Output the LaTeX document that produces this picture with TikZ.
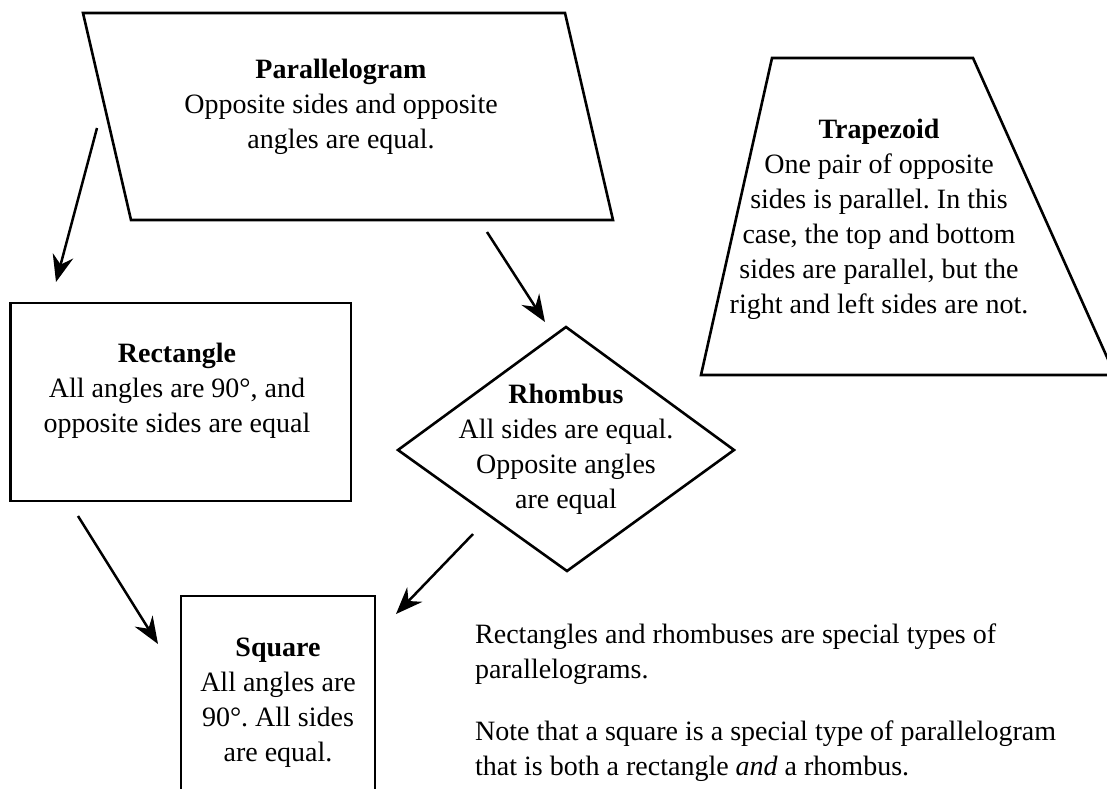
\documentclass[tikz,border=0pt]{standalone}
\usepackage{fontspec}
\setmainfont{Liberation Serif}
\usetikzlibrary{arrows.meta}
\frenchspacing
\begin{document}
\begin{tikzpicture}[x=1pt,y=-1pt,
  shp/.style={draw=black, line width=2.6pt, line join=miter},
  lbl/.style={align=center, anchor=north, inner sep=0pt, font=\fontsize{28}{35}\selectfont},
  para/.style={align=left, anchor=north west, inner sep=0pt, font=\fontsize{28}{35}\selectfont},
  arr/.style={line width=2.5pt, -{Stealth[length=27pt,width=21pt,inset=9pt]}}]
\useasboundingbox (0,0) rectangle (1107,788);
% shapes
\draw[shp] (83,13) -- (565,13) -- (613,220) -- (131,220) -- cycle;
\draw[shp] (772,58) -- (973,58) -- (1115,375) -- (701,375) -- cycle;
\draw[shp] (10.5,303) rectangle (351,501);
\draw[shp] (566,327) -- (734,450) -- (567,571) -- (398,450) -- cycle;
\draw[shp] (181,596) rectangle (375,820);
% labels
\node[lbl] (par) at (341,53.5) {\strut\textbf{Parallelogram}\\Opposite sides and opposite\\angles are equal.};
\node[lbl] (tra) at (879,113.5) {\strut\textbf{Trapezoid}\\One pair of opposite\\sides is parallel. In this\\case, the top and bottom\\sides are parallel, but the\\right and left sides are not.};
\node[lbl] (rec) at (177,337.5) {\strut\textbf{Rectangle}\\All angles are 90°, and\\opposite sides are equal};
\node[lbl] (rho) at (566,378.5) {\strut\textbf{Rhombus}\\All sides are equal.\\Opposite angles\\are equal};
\node[lbl] (squ) at (278,631.5) {\strut\textbf{Square}\\All angles are\\90°. All sides\\are equal.};
\node[para] (n1) at (475,618.5) {\strut Rectangles and rhombuses are special types of\\parallelograms.};
\node[para] (n2) at (475,715.5) {\strut Note that a square is a special type of parallelogram\\that is both a rectangle \textit{and} a rhombus.};
% arrows
\coordinate (a1s) at (97,128);  \coordinate (a1e) at (56,282);
\coordinate (a2s) at (487,232); \coordinate (a2e) at (545,322);
\coordinate (a3s) at (78,516);  \coordinate (a3e) at (158,644);
\coordinate (a4s) at (473,534); \coordinate (a4e) at (396,614);
\draw[arr] (a1s) -- (a1e);
\draw[arr] (a2s) -- (a2e);
\draw[arr] (a3s) -- (a3e);
\draw[arr] (a4s) -- (a4e);
\end{tikzpicture}
\end{document}
